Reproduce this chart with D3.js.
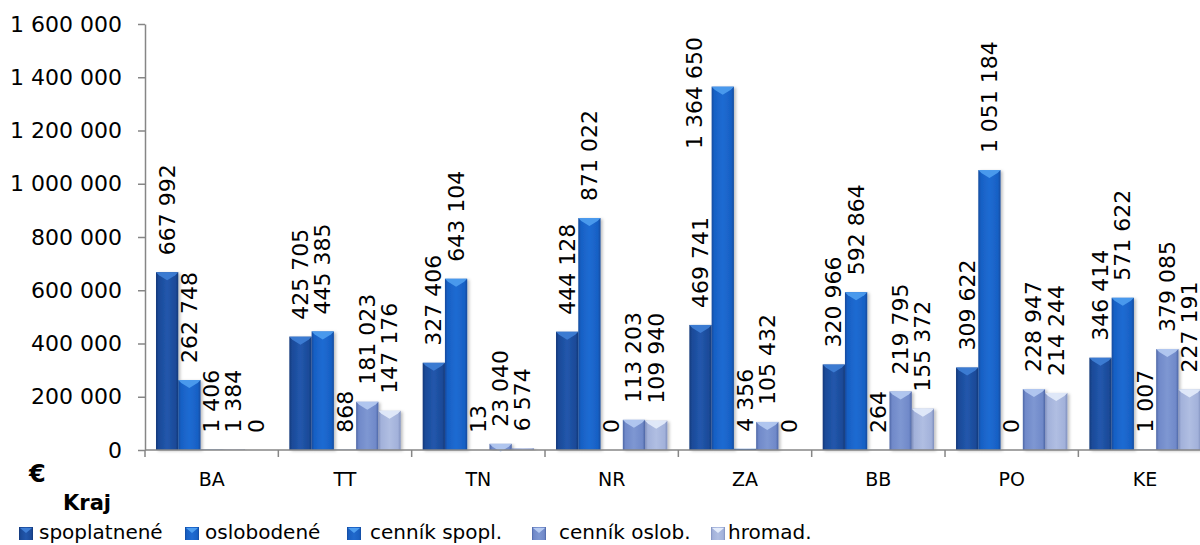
<!DOCTYPE html>
<html>
<head>
<meta charset="utf-8">
<script src="https://cdn.jsdelivr.net/npm/d3@7"></script>
<style>
  body { margin: 0; background: #fff; }
  svg { display: block; font-family: "DejaVu Sans", sans-serif; }
</style>
</head>
<body>
<div id="chart"></div>
<script>
"use strict";

// data
var regions = ["BA", "TT", "TN", "NR", "ZA", "BB", "PO", "KE"];
var seriesNames = ["spoplatnené", "oslobodené", "cenník spopl.", "cenník oslob.", "hromad."];
var spoplatnene = [667992, 425705, 327406, 444128, 469741, 320966, 309622, 346414];
var oslobodene = [262748, 445385, 643104, 871022, 1364650, 592864, 1051184, 571622];
var cennikSpopl = [1406, 868, 13, 0, 4356, 264, 0, 1007];
var cennikOslob = [1384, 181023, 23040, 113203, 105432, 219795, 228947, 379085];
var hromad = [0, 147176, 6574, 109940, 0, 155372, 214244, 227191];
var yTicks = [0, 200000, 400000, 600000, 800000, 1000000, 1200000, 1400000, 1600000];

var seriesValues = [spoplatnene, oslobodene, cennikSpopl, cennikOslob, hromad];

// colours: [edge, body, highlight, top facet]
var palette = [
  ["#13387a", "#1b4a98", "#2257ac", "#3f7fd6"],
  ["#124a9e", "#1760c4", "#1f6bd2", "#4f9ff0"],
  ["#124a9e", "#1a5fc0", "#2169cc", "#4f9ff0"],
  ["#4d66a6", "#7089c9", "#7e97d2", "#b6cbf2"],
  ["#7f8fbd", "#a2b1da", "#b0bee2", "#e4ecfb"]
];

var W = 1200, H = 545;
var plot = { left: 145, right: 1211.7, top: 24, bottom: 450 };
var legendX = [19, 185, 347, 532, 711];
var legendTextX = [39, 205, 370, 559, 728];

var fmt = d3.formatLocale({ decimal: ",", thousands: " ", grouping: [3], currency: ["", "€"] }).format(",d");

var svg = d3.select("#chart").append("svg")
  .attr("width", W)
  .attr("height", H);

var defs = svg.append("defs");
palette.forEach(function(c, i) {
  var g = defs.append("linearGradient")
    .attr("id", "grad" + i)
    .attr("x1", 0).attr("x2", 1).attr("y1", 0).attr("y2", 0);
  g.append("stop").attr("offset", "0%").attr("stop-color", c[0]);
  g.append("stop").attr("offset", "12%").attr("stop-color", c[1]);
  g.append("stop").attr("offset", "50%").attr("stop-color", c[2]);
  g.append("stop").attr("offset", "88%").attr("stop-color", c[1]);
  g.append("stop").attr("offset", "100%").attr("stop-color", c[0]);
});
defs.append("filter")
  .attr("id", "shadow")
  .attr("x", "-20%").attr("y", "-5%").attr("width", "150%").attr("height", "115%")
  .append("feDropShadow")
  .attr("dx", 2).attr("dy", 1).attr("stdDeviation", 1.5)
  .attr("flood-color", "#000").attr("flood-opacity", 0.25);

var x0 = d3.scaleBand().domain(regions).range([plot.left, plot.right]);
var x1 = d3.scaleBand().domain(d3.range(seriesNames.length))
  .range([11, x0.bandwidth() - 11]);
var y = d3.scaleLinear().domain([0, 1600000]).range([plot.bottom, plot.top]);

// y axis
var yAxis = svg.append("g")
  .attr("transform", "translate(" + plot.left + ",0)")
  .call(d3.axisLeft(y).tickValues(yTicks).tickFormat(fmt).tickSize(7).tickSizeOuter(0).tickPadding(16));
yAxis.select(".domain").attr("stroke", "#868686").attr("stroke-width", 1.5);
yAxis.selectAll(".tick line").attr("stroke", "#868686").attr("stroke-width", 1.5);
yAxis.selectAll(".tick text")
  .attr("font-size", 22)
  .attr("font-family", "DejaVu Sans, sans-serif")
  .attr("fill", "#000");

// bars
var groups = svg.selectAll("g.region")
  .data(regions)
  .enter().append("g")
  .attr("class", "region")
  .attr("transform", function(d) { return "translate(" + x0(d) + ",0)"; });

var cells = groups.selectAll("g.bar")
  .data(function(d, ri) {
    return seriesValues.map(function(vals, si) { return { s: si, r: ri, v: vals[ri] }; });
  })
  .enter().append("g")
  .attr("class", "bar");

cells.append("rect")
  .attr("x", function(d) { return x1(d.s); })
  .attr("y", function(d) { return y(d.v); })
  .attr("width", x1.bandwidth())
  .attr("height", function(d) { return y(0) - y(d.v); })
  .attr("fill", function(d) { return "url(#grad" + d.s + ")"; })
  .attr("filter", "url(#shadow)");

// bevel facet on the top of each bar
cells.filter(function(d) { return y(0) - y(d.v) > 6; })
  .append("path")
  .attr("d", function(d) {
    var l = x1(d.s), r = l + x1.bandwidth(), t = y(d.v);
    return "M" + l + "," + t + "L" + r + "," + t + "L" + (r - 3) + "," + (t + 3) +
      "L" + (l + r) / 2 + "," + (t + 8) + "L" + (l + 3) + "," + (t + 3) + "Z";
  })
  .attr("fill", function(d) { return palette[d.s][3]; })
  .attr("opacity", 0.9);

// x axis
svg.append("line")
  .attr("x1", plot.left).attr("x2", plot.right)
  .attr("y1", plot.bottom).attr("y2", plot.bottom)
  .attr("stroke", "#868686").attr("stroke-width", 1.5);
svg.selectAll("line.xtick")
  .data(regions)
  .enter().append("line")
  .attr("class", "xtick")
  .attr("x1", function(d) { return x0(d); })
  .attr("x2", function(d) { return x0(d); })
  .attr("y1", plot.bottom).attr("y2", plot.bottom + 7)
  .attr("stroke", "#868686").attr("stroke-width", 1.5);
svg.selectAll("text.xlab")
  .data(regions)
  .enter().append("text")
  .attr("class", "xlab")
  .attr("x", function(d) { return x0(d) + x0.bandwidth() / 2; })
  .attr("y", 486)
  .attr("text-anchor", "middle")
  .attr("font-size", 19)
  .text(function(d) { return d; });

// data labels, rotated
var labels = cells.append("text")
  .attr("font-size", 22)
  .attr("fill", "#000")
  .attr("dominant-baseline", "central")
  .text(function(d) { return fmt(d.v); });

labels.each(function(d) {
  var len = this.getComputedTextLength();
  var cx = x1(d.s) + x1.bandwidth() / 2;
  var start = y(d.v) - 17;
  if (start - len < 30) {
    // no room above the bar: pin to the top and move beside the bar
    start = 37 + len;
    cx = cx - x1.bandwidth() - 6;
  }
  d3.select(this).attr("transform", "translate(" + cx + "," + start + ") rotate(-90)");
});

// axis titles
svg.append("text")
  .attr("x", 29).attr("y", 482)
  .attr("font-size", 24).attr("font-weight", "bold")
  .text("€");
svg.append("text")
  .attr("x", 63).attr("y", 510)
  .attr("font-size", 21).attr("font-weight", "bold")
  .text("Kraj");

// legend
var legend = svg.selectAll("g.legend")
  .data(seriesNames)
  .enter().append("g")
  .attr("class", "legend");
legend.append("rect")
  .attr("x", function(d, i) { return legendX[i]; })
  .attr("y", 527)
  .attr("width", 14).attr("height", 13)
  .attr("fill", function(d, i) { return "url(#grad" + i + ")"; });
legend.append("path")
  .attr("d", function(d, i) {
    var l = legendX[i];
    return "M" + (l + 1) + ",528L" + (l + 13) + ",528L" + (l + 7) + ",533Z";
  })
  .attr("fill", function(d, i) { return palette[i][3]; });
legend.append("text")
  .attr("x", function(d, i) { return legendTextX[i]; })
  .attr("y", 539)
  .attr("font-size", 20)
  .text(function(d) { return d; });
</script>
</body>
</html>
